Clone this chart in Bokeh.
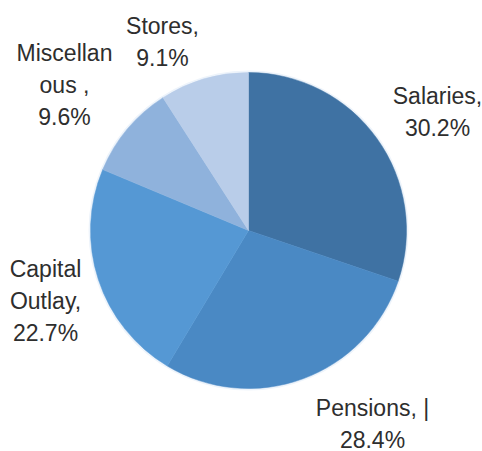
import numpy as np
from bokeh.plotting import figure
from bokeh.models import ColumnDataSource, Range1d
from bokeh.core.properties import value
from bokeh.embed import file_html
from bokeh.resources import INLINE

# ---- data ----
categories = ["Salaries", "Pensions", "Capital Outlay", "Miscellaneous", "Stores"]
shares = [30.2, 28.4, 22.7, 9.6, 9.1]
label_lines = [
    ["Salaries,", "30.2%"],
    ["Pensions, |", "28.4%"],
    ["Capital", "Outlay,", "22.7%"],
    ["Miscellan", "ous ,", "9.6%"],
    ["Stores,", "9.1%"],
]

# ---- style / layout ----
colors = ["#3f72a3", "#4a89c4", "#5598d4", "#8fb2dc", "#b9cde9"]
W, H = 482, 451
cx, cy, R = 248, 221, 158
# label line-1 centre positions (pixel coords, y downward)
label_pos = [(437, 95), (372, 407), (45, 268), (64, 52), (162, 25)]
line_step = 32

vals = np.array(shares)
frac = vals / vals.sum()
cum = np.concatenate([[0], np.cumsum(frac)])
start = np.pi / 2 - 2 * np.pi * cum[:-1]
end = np.pi / 2 - 2 * np.pi * cum[1:]

src = ColumnDataSource(dict(cat=categories, val=shares, start=start, end=end, color=colors))

p = figure(width=W, height=H, output_backend="svg", toolbar_location=None,
           x_range=Range1d(0, W), y_range=Range1d(0, H), min_border=0)
p.axis.visible = False
p.grid.visible = False
p.outline_line_color = None
p.background_fill_color = "white"

# faint halo
p.circle(x=cx, y=cy, radius=R + 2, fill_color="#eef4fb", line_color=None)
p.wedge(x=cx, y=cy, radius=R, start_angle="start", end_angle="end",
        direction="clock", fill_color="color", line_color="color", line_width=0.5, source=src)

xs, ys, ts = [], [], []
for (lx, ly), lines in zip(label_pos, label_lines):
    for i, t in enumerate(lines):
        xs.append(lx)
        ys.append(H - (ly + i * line_step))
        ts.append(t)
lsrc = ColumnDataSource(dict(x=xs, y=ys, text=ts))
p.text(x="x", y="y", text="text", source=lsrc, text_font=value("Liberation Sans"),
       text_font_size="23px", text_color="#2e2e2e", text_align="center",
       text_baseline="middle")

open("out.html", "w").write(file_html(p, INLINE))
